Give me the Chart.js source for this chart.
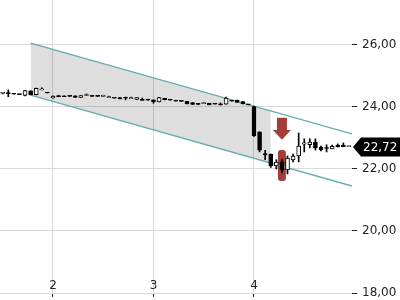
<!DOCTYPE html>
<html>
<head>
<meta charset="utf-8">
<script src="https://cdn.jsdelivr.net/npm/chart.js@4/dist/chart.umd.min.js"></script>
<style>html,body{margin:0;padding:0;background:#fff}</style>
</head>
<body>
<canvas id="c" width="400" height="300"></canvas>
<script>
// ── daten ─────────────────────────────
const xStart = 1.5, xStep = 1 / 18;   // handelstage, 18 pro achseneinheit
const opens  = [24.44,24.45,24.43,24.41,24.37,24.52,24.40,24.55,24.46,24.29,24.37,24.36,24.35,24.36,24.31,24.37,24.35,24.35,24.34,24.30,24.29,24.30,24.29,24.27,24.24,24.25,24.23,24.23,24.16,24.28,24.23,24.20,24.19,24.18,24.14,24.12,24.11,24.12,24.10,24.10,24.09,24.20,24.22,24.17,24.08,24.01,23.20,22.50,22.48,22.10,22.23,21.97,22.29,22.42,22.80,22.78,22.87,22.71,22.68,22.65,22.77,22.77,22.72];
const closes = [24.44,24.43,24.41,24.40,24.53,24.39,24.60,24.57,24.45,24.35,24.33,24.33,24.34,24.31,24.37,24.38,24.34,24.34,24.35,24.32,24.28,24.26,24.28,24.28,24.30,24.21,24.22,24.16,24.30,24.23,24.22,24.19,24.18,24.10,24.08,24.08,24.12,24.07,24.09,24.07,24.29,24.19,24.15,24.10,24.07,23.07,22.61,22.45,22.10,22.22,21.97,22.35,22.42,22.74,22.84,22.87,22.68,22.62,22.66,22.73,22.71,22.72,22.72];
const highs  = [24.46,24.55,24.43,24.41,24.54,24.52,24.61,24.62,24.46,24.36,24.37,24.36,24.35,24.36,24.37,24.42,24.35,24.35,24.38,24.35,24.29,24.30,24.32,24.32,24.30,24.29,24.23,24.23,24.31,24.28,24.23,24.20,24.19,24.18,24.14,24.12,24.14,24.12,24.10,24.13,24.32,24.20,24.22,24.17,24.08,24.03,23.20,22.60,22.48,22.30,22.32,22.42,22.48,23.16,22.97,22.97,22.97,22.74,22.78,22.77,22.81,22.84,22.72];
const lows   = [24.42,24.33,24.41,24.40,24.36,24.39,24.39,24.55,24.45,24.28,24.33,24.33,24.34,24.31,24.31,24.37,24.34,24.34,24.34,24.30,24.28,24.26,24.23,24.27,24.24,24.21,24.22,24.12,24.16,24.23,24.22,24.19,24.18,24.10,24.08,24.08,24.11,24.07,24.09,24.06,24.09,24.19,24.15,24.10,24.07,23.05,22.55,22.30,22.05,22.00,21.87,21.84,22.23,22.23,22.55,22.68,22.61,22.58,22.55,22.65,22.71,22.72,22.72];

// trendkanal
const channelX     = [1.778, 4.975];
const channelUpper = [26.06, 23.13];
const channelLower = [24.38, 21.45];
const fillX        = [1.778, 4.167];
const fillUpper    = [26.06, 23.87];
const fillLower    = [24.38, 22.19];

// markierung + letzter kurs
const markIndex  = 50;
const markTop    = 22.61, markBottom = 21.61;
const arrowTop   = 23.65, arrowNeck = 23.26, arrowTip = 22.94;
const lastPrice  = 22.72;

const yTicks = [18, 20, 22, 24, 26];
const xTicks = [2, 3, 4];

const RED  = '#a23e3a';
const TEAL = '#63acb0';
const FONT = '12px "DejaVu Sans"';
const fmt  = v => v.toFixed(2).replace('.', ',');

const candleX = opens.map((_, i) => xStart + i * xStep);
const isUp    = opens.map((o, i) => closes[i] >= o);

const wicks  = candleX.map((x, i) => ({ x, y: [lows[i], highs[i]] }));
const bodies = candleX.map((x, i) => ({ x, y: [opens[i], closes[i]] }));

const line = (xs, ys) => xs.map((x, i) => ({ x, y: ys[i] }));

const markers = {
  id: 'markers',
  beforeDatasetsDraw(chart) {
    const { ctx, scales: { x, y } } = chart;
    const px = x.getPixelForValue(candleX[markIndex]);
    const t = y.getPixelForValue(markTop), b = y.getPixelForValue(markBottom);
    ctx.save();
    ctx.fillStyle = RED;
    ctx.beginPath();
    ctx.roundRect(px - 4, t, 8, b - t, 3);
    ctx.fill();
    ctx.restore();
  },
  afterDatasetsDraw(chart) {
    const { ctx, scales: { x, y } } = chart;
    const px = x.getPixelForValue(candleX[markIndex]);
    const t = y.getPixelForValue(arrowTop), n = y.getPixelForValue(arrowNeck), tip = y.getPixelForValue(arrowTip);
    ctx.save();
    ctx.fillStyle = RED;
    ctx.beginPath();
    ctx.moveTo(px - 5, t); ctx.lineTo(px + 5, t); ctx.lineTo(px + 5, n);
    ctx.lineTo(px + 9, n); ctx.lineTo(px, tip); ctx.lineTo(px - 9, n);
    ctx.lineTo(px - 5, n); ctx.closePath();
    ctx.fill();
    ctx.restore();
  },
  afterDraw(chart) {
    const { ctx, scales: { x, y }, chartArea } = chart;
    ctx.save();
    // x-beschriftung innerhalb der zeichenfläche
    ctx.fillStyle = '#222';
    ctx.font = FONT;
    ctx.textAlign = 'center';
    ctx.textBaseline = 'middle';
    x.ticks.forEach(t => ctx.fillText(String(t.value), x.getPixelForValue(t.value), chartArea.bottom - 7));

    // letzter kurs
    const yc = Math.round(y.getPixelForValue(lastPrice));
    const l = chartArea.right + 1;
    ctx.fillStyle = '#000';
    ctx.beginPath();
    ctx.moveTo(l, yc); ctx.lineTo(l + 8, yc - 9.5); ctx.lineTo(400, yc - 9.5);
    ctx.lineTo(400, yc + 9.5); ctx.lineTo(l + 8, yc + 9.5); ctx.closePath();
    ctx.fill();
    ctx.fillStyle = '#fff';
    ctx.textAlign = 'left';
    ctx.fillText(fmt(lastPrice), l + 10, yc + 1);
    ctx.restore();
  }
};

new Chart(document.getElementById('c'), {
  type: 'bar',
  data: {
    datasets: [
      { type: 'line', data: line(fillX, fillUpper), fill: '+1', backgroundColor: 'rgba(0,0,0,0.13)',
        borderWidth: 0, pointRadius: 0, order: 5 },
      { type: 'line', data: line(fillX, fillLower), fill: false, borderWidth: 0, pointRadius: 0, order: 5 },
      { type: 'line', data: line(channelX, channelUpper), borderColor: TEAL, borderWidth: 1.3, pointRadius: 0, fill: false, order: 3 },
      { type: 'line', data: line(channelX, channelLower), borderColor: TEAL, borderWidth: 1.3, pointRadius: 0, fill: false, order: 3 },
      { data: wicks, backgroundColor: '#000', barThickness: 1, borderWidth: 0, order: 2 },
      { data: bodies, backgroundColor: isUp.map(u => u ? '#fff' : '#000'), borderColor: '#000',
        borderWidth: 1, borderSkipped: false, barThickness: 4, minBarLength: 1, order: 1 }
    ]
  },
  options: {
    responsive: false,
    animation: false,
    devicePixelRatio: 1,
    layout: { padding: 0 },
    plugins: { legend: { display: false }, tooltip: { enabled: false } },
    datasets: { bar: { grouped: false } },
    scales: {
      x: {
        type: 'linear', min: 1.473, max: 4.975, offset: false,
        grid: { color: '#d9d9d9', tickColor: '#222', tickLength: 4, offset: false },
        border: { display: false },
        afterBuildTicks: s => { s.ticks = xTicks.map(v => ({ value: v })); },
        ticks: { display: false },
        afterFit: s => { s.height = 7; s.paddingLeft = 0; s.paddingRight = 0; }
      },
      y: {
        type: 'linear', position: 'right', min: 18, max: 27.45,
        grid: { color: '#d9d9d9', tickColor: '#222', tickLength: 5 },
        border: { display: false },
        afterBuildTicks: s => { s.ticks = yTicks.map(v => ({ value: v })); },
        ticks: { color: '#222', font: { family: 'DejaVu Sans', size: 12 }, padding: 5, callback: v => fmt(v) },
        afterFit: s => { s.width = 48; s.paddingTop = 0; s.paddingBottom = 0; }
      }
    }
  },
  plugins: [markers]
});
</script>
</body>
</html>
